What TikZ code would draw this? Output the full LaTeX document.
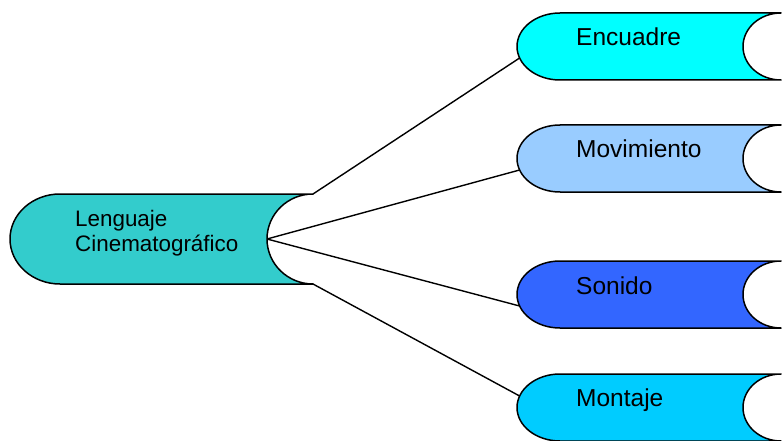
\documentclass[tikz,border=0pt]{standalone}
\usepackage{fontspec}
\setmainfont{Liberation Sans}
\definecolor{rootfill}{HTML}{33CCCC}
\definecolor{encfill}{HTML}{00FFFF}
\definecolor{movfill}{HTML}{99CCFF}
\definecolor{sonfill}{HTML}{3366FF}
\definecolor{monfill}{HTML}{00CCFF}
\begin{document}
\begin{tikzpicture}[x=1pt,y=-1pt,
  outline/.style={draw=black, line width=1.5pt, line join=round},
  link/.style={draw=black, line width=1.4pt},
  rootlabel/.style={anchor=north west, inner sep=0pt, align=left,
    font=\fontsize{22.4}{25}\selectfont},
  leaflabel/.style={anchor=base west, inner sep=0pt,
    font=\fontsize{24.5}{28}\selectfont},
  % branch box: rounded left end, hollowed right end
  leaf/.pic={
    \path[outline, pic actions] (43,0) -- (264,0)
      .. controls (243,0) and (226,15) .. (226,33.5)
      .. controls (226,52) and (243,67) .. (264,67)
      -- (43,67)
      .. controls (19.3,67) and (0,52) .. (0,33.5)
      .. controls (0,15) and (19.3,0) .. (43,0) -- cycle;
    \coordinate (-lo) at (2.6,45);
    \coordinate (-hi) at (2.6,22);
  },
  % root box: same outline, taller
  trunk/.pic={
    \path[outline, pic actions] (50,0) -- (303,0)
      .. controls (277.6,0) and (257,20.2) .. (257,45)
      .. controls (257,69.8) and (277.6,90) .. (303,90)
      -- (50,90)
      .. controls (22.4,90) and (0,69.8) .. (0,45)
      .. controls (0,20.2) and (22.4,0) .. (50,0) -- cycle;
    \coordinate (-ne) at (303,0);
    \coordinate (-notch) at (257,45);
    \coordinate (-se) at (303,90);
  }]
\useasboundingbox (0,0) rectangle (782,441);

\pic[fill=rootfill] (root) at (10,194) {trunk};
\pic[fill=encfill] (enc) at (517,13) {leaf};
\pic[fill=movfill] (mov) at (517,125) {leaf};
\pic[fill=sonfill] (son) at (517,261) {leaf};
\pic[fill=monfill] (mon) at (517,374) {leaf};

\node[rootlabel] (roottxt) at (75,210) {Lenguaje\\Cinematográfico};
\node[leaflabel] (enctxt) at (576,45.5) {Encuadre};
\node[leaflabel] (movtxt) at (576,158) {Movimiento};
\node[leaflabel] (sontxt) at (576,294) {Sonido};
\node[leaflabel] (montxt) at (576,406) {Montaje};

\draw[link] (root-ne) -- (enc-lo);
\draw[link] (root-notch) -- (mov-lo);
\draw[link] (root-notch) -- (son-lo);
\draw[link] (root-se) -- (mon-hi);
\end{tikzpicture}
\end{document}
